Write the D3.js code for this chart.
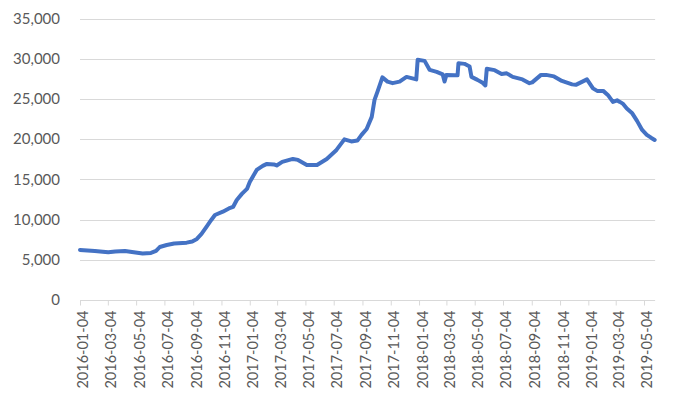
<!DOCTYPE html>
<html>
<head>
<meta charset="utf-8">
<script src="https://cdn.jsdelivr.net/npm/d3@7"></script>
<style>
  html, body { margin: 0; padding: 0; background: #fff; }
  svg text { font-family: Lato, "Open Sans", sans-serif; fill: #595959; }
</style>
</head>
<body>
<svg id="chart" width="680" height="401"></svg>
<script>
const dates = [
  "2016-01-04","2016-01-20","2016-02-05","2016-02-22","2016-03-05","2016-03-20","2016-04-10","2016-04-25",
  "2016-05-18","2016-06-05","2016-06-16","2016-06-24","2016-07-09","2016-07-25","2016-08-21","2016-09-02",
  "2016-09-12","2016-09-22","2016-10-03","2016-10-13","2016-10-21","2016-11-07","2016-11-20","2016-11-29",
  "2016-12-07","2016-12-18","2016-12-29","2017-01-04","2017-01-19","2017-02-01","2017-02-10","2017-02-25",
  "2017-03-03","2017-03-15","2017-04-07","2017-04-18","2017-05-07","2017-05-29","2017-06-19","2017-07-10",
  "2017-07-27","2017-08-11","2017-08-24","2017-09-02","2017-09-13","2017-09-24","2017-09-30","2017-10-07",
  "2017-10-17","2017-10-28","2017-11-08","2017-11-23","2017-12-08","2017-12-25","2017-12-29","2018-01-01",
  "2018-01-16","2018-01-27","2018-02-11","2018-02-24","2018-02-28","2018-03-04","2018-03-22","2018-03-28",
  "2018-03-30","2018-04-12","2018-04-23","2018-04-27","2018-05-10","2018-05-21","2018-05-27","2018-05-30",
  "2018-06-16","2018-07-01","2018-07-12","2018-07-25","2018-08-15","2018-08-30","2018-09-05","2018-09-24",
  "2018-10-05","2018-10-22","2018-11-08","2018-11-30","2018-12-08","2019-01-01","2019-01-14","2019-01-23",
  "2019-02-05","2019-02-15","2019-02-26","2019-03-07","2019-03-13","2019-03-20","2019-03-28","2019-04-08",
  "2019-04-19","2019-04-30","2019-05-10","2019-05-20","2019-05-27"
];
const values = [
  6220,6160,6100,6010,5930,6030,6100,5970,
  5780,5850,6100,6590,6840,7030,7130,7280,
  7590,8210,9120,9950,10570,10980,11380,11570,
  12440,13190,13810,14680,16170,16670,16920,16860,
  16730,17170,17540,17420,16790,16790,17540,18660,
  19970,19720,19820,20530,21270,22770,24880,26000,
  27680,27150,26960,27150,27740,27490,27430,29860,
  29730,28610,28360,28050,27160,27990,27930,27930,
  29450,29360,29020,27740,27370,27000,26680,28740,
  28580,28110,28180,27740,27430,26960,27060,27990,
  27990,27800,27240,26810,26750,27430,26310,26000,
  26000,25500,24630,24820,24630,24380,23820,23260,
  22270,21150,20530,20150,19900
];
const tickLabels = [
  "2016-01-04","2016-03-04","2016-05-04","2016-07-04","2016-09-04","2016-11-04",
  "2017-01-04","2017-03-04","2017-05-04","2017-07-04","2017-09-04","2017-11-04",
  "2018-01-04","2018-03-04","2018-05-04","2018-07-04","2018-09-04","2018-11-04",
  "2019-01-04","2019-03-04","2019-05-04"
];
const yTicks = [0,5000,10000,15000,20000,25000,30000,35000];

const parse = d3.timeParse("%Y-%m-%d");
const fmtDate = d3.timeFormat("%Y-%m-%d");
const data = dates.map((d,i)=>({date: parse(d), value: values[i]}));

const svg = d3.select("#chart");
const x0 = parse("2016-01-04"), x1 = parse("2019-05-28");
const xLeft = 80, pxPerDay = 564/1216;
const xRight = xLeft + d3.timeDay.count(x0, x1) * pxPerDay;
const x = d3.scaleTime().domain([x0, x1]).range([xLeft, xRight]);
const y = d3.scaleLinear().domain([0, 35000]).range([300, 18.5]);

// gridlines
svg.append("g").selectAll("line").data(yTicks.filter(v=>v>0)).join("line")
  .attr("x1", xLeft).attr("x2", xRight)
  .attr("y1", d=>Math.round(y(d))+0.5).attr("y2", d=>Math.round(y(d))+0.5)
  .attr("stroke", "#d9d9d9").attr("stroke-width", 1);

// y axis labels
const yAxis = d3.axisLeft(y).tickValues(yTicks).tickSize(0).tickPadding(0)
  .tickFormat(d3.format(","));
const gy = svg.append("g").attr("transform", "translate(60,0)").call(yAxis);
gy.select(".domain").remove();
gy.selectAll("text").style("font-size", "15px").style("fill", "#595959");

// x axis
const xAxis = d3.axisBottom(x).tickValues(tickLabels.map(parse)).tickSize(5).tickSizeOuter(0)
  .tickFormat(fmtDate);
const gx = svg.append("g").attr("transform", "translate(0,300.5)").call(xAxis);
gx.select(".domain").attr("stroke", "#d9d9d9").attr("d", `M${xLeft},0H${xRight}`);
gx.selectAll(".tick line").attr("stroke", "#d9d9d9");
gx.selectAll("text")
  .style("font-size", "14.5px").style("fill", "#595959")
  .attr("text-anchor", "end")
  .attr("transform", "rotate(-90)")
  .attr("x", -10).attr("y", 0).attr("dy", "0.55em");

// line
const line = d3.line().x(d=>x(d.date)).y(d=>y(d.value));
svg.append("path").datum(data)
  .attr("fill", "none").attr("stroke", "#4472C4").attr("stroke-width", 4)
  .attr("stroke-linejoin", "round").attr("stroke-linecap", "round")
  .attr("d", line);
</script>
</body>
</html>
